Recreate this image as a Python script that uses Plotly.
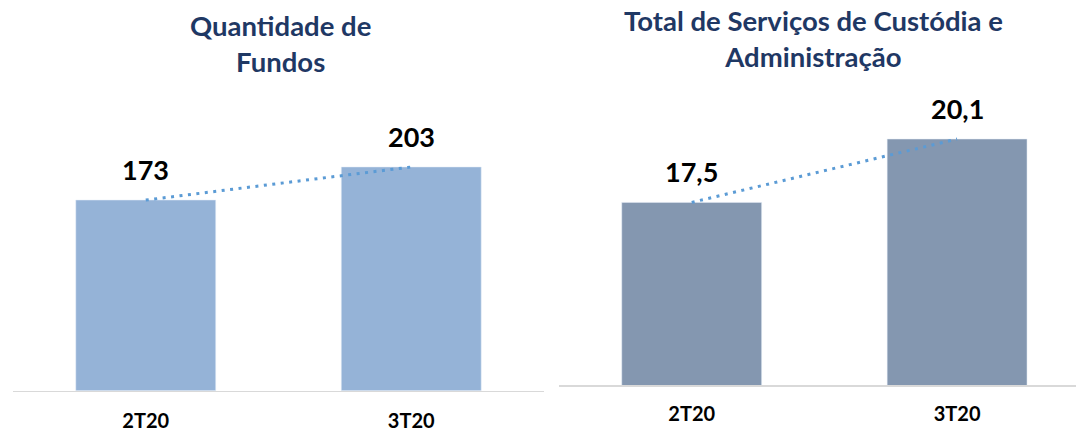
import plotly.graph_objects as go

categories = ["2T20", "3T20"]
fundos = [173, 203]
custodia = [17.5, 20.1]
title_left = "Quantidade de<br>Fundos"
title_right = "Total de Serviços de Custódia e<br>Administração"

W, H = 1076, 431
FONT = "Lato, 'Open Sans', sans-serif"
NAVY = "#1F3864"
TREND = "#5B9BD5"


def px_x(x):
    return x / W


def px_y(y):
    return 1 - y / H


fig = go.Figure()

fig.add_trace(go.Bar(x=[0, 1], y=fundos, width=0.527, marker_color="#95B3D7",
                     xaxis="x", yaxis="y", showlegend=False, hoverinfo="skip"))
fig.add_trace(go.Scatter(x=[0, 1], y=fundos, mode="lines",
                         line=dict(color=TREND, width=3, dash="3px,5.5px"),
                         xaxis="x", yaxis="y", showlegend=False, hoverinfo="skip"))
fig.add_trace(go.Bar(x=[0, 1], y=custodia, width=0.527, marker_color="#8497B0",
                     xaxis="x2", yaxis="y2", showlegend=False, hoverinfo="skip"))
fig.add_trace(go.Scatter(x=[0, 1], y=custodia, mode="lines",
                         line=dict(color=TREND, width=3, dash="3px,5.5px"),
                         xaxis="x2", yaxis="y2", showlegend=False, hoverinfo="skip"))

annotations = []
for i, v in enumerate(fundos):
    annotations.append(dict(x=i, y=v, xref="x", yref="y", text=f"{v}", showarrow=False,
                            yanchor="bottom", yshift=12,
                            font=dict(family=FONT, size=27, color="black", weight="bold")))
for i, v in enumerate(custodia):
    annotations.append(dict(x=i, y=v, xref="x2", yref="y2", text=f"{v:.1f}".replace(".", ","),
                            showarrow=False, yanchor="bottom", yshift=12,
                            font=dict(family=FONT, size=27, color="black", weight="bold")))

annotations.append(dict(x=px_x(280), y=px_y(8), xref="paper", yref="paper", text=title_left,
                        showarrow=False, xanchor="center", yanchor="top", borderpad=0,
                        font=dict(family=FONT, size=27.5, color=NAVY, weight="bold")))
annotations.append(dict(x=px_x(813), y=px_y(3), xref="paper", yref="paper", text=title_right,
                        showarrow=False, xanchor="center", yanchor="top", borderpad=0,
                        font=dict(family=FONT, size=27.5, color=NAVY, weight="bold")))

tickfont = dict(family=FONT, size=20, color="black", weight="bold")
axis_common = dict(type="linear", showgrid=False, zeroline=False, showline=True,
                   linecolor="#D9D9D9", linewidth=1.5, ticks="", tickfont=tickfont,
                   tickmode="array", tickvals=[0, 1], ticktext=categories,
                   automargin=False)

# left panel: axis line 13..544 px, baseline 390.7 px, 1.102 px per unit
# right panel: axis line 559..1076 px, baseline 385 px, 24.35 px per unit from 10
fig.update_layout(
    width=W, height=H,
    margin=dict(l=0, r=0, t=0, b=0, autoexpand=False),
    paper_bgcolor="white", plot_bgcolor="white",
    separators=",.",
    hovermode=False,
    xaxis=dict(domain=[px_x(13), px_x(544)], range=[-0.5, 1.5], anchor="y",
               ticklabelstandoff=12, **axis_common),
    yaxis=dict(domain=[px_y(390.7), 1], range=[0, 390.7 / 1.102],
               visible=False, fixedrange=True, automargin=False),
    xaxis2=dict(domain=[px_x(559), 1], range=[-0.5, -0.5 + (W - 559) / 265.4], anchor="y2",
                ticklabelstandoff=10, **axis_common),
    yaxis2=dict(domain=[px_y(385), 1], range=[10, 10 + 385 / 24.35],
                visible=False, fixedrange=True, automargin=False),
    annotations=annotations,
)

fig.write_html(
    "out.html",
    config={"displayModeBar": False, "staticPlot": True},
    post_script="document.body.style.margin='0';document.body.style.overflow='hidden';",
)
